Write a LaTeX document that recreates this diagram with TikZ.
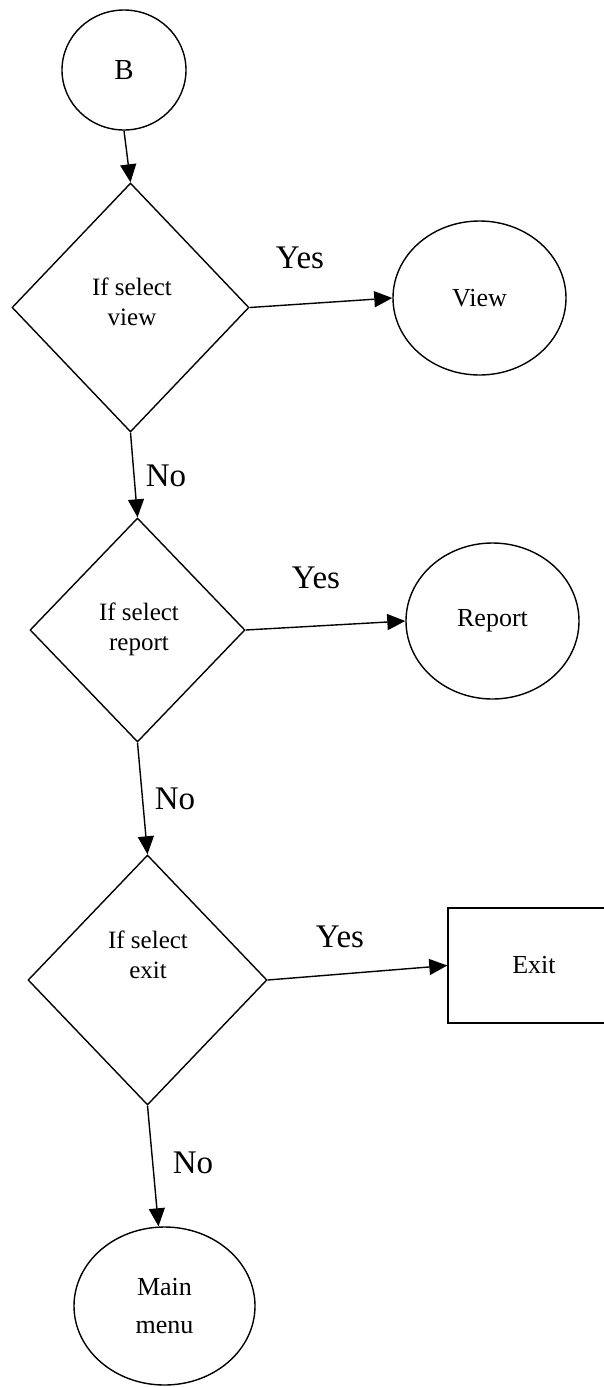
\documentclass[tikz,border=0pt]{standalone}
\usepackage{fontspec}
\setmainfont{Liberation Serif}
\usetikzlibrary{shapes.geometric,arrows.meta}

\tikzset{
  oval/.style={draw, ellipse, line width=1.4pt, inner sep=0pt, align=center, font=\fontsize{26}{38}\selectfont},
  decision/.style={draw, diamond, line width=1.4pt, inner sep=0pt},
  inside/.style={align=center, font=\fontsize{25}{30}\selectfont},
  answer/.style={font=\fontsize{33}{38}\selectfont},
  flow/.style={-{Triangle[length=18pt,width=16pt]}, line width=1.4pt}
}

\begin{document}
\begin{tikzpicture}[x=1pt, y=-1pt]
        \useasboundingbox (0,0) rectangle (604,1387);
        \clip (0,0) rectangle (604,1387);

        % Start connector
        \node[oval, minimum width=124pt, minimum height=120pt, font=\fontsize{29}{34}\selectfont] (b) at (124,70) {B};

        % Decisions
        \node[decision, minimum width=237pt, minimum height=249pt] (viewq) at (130.5,307.5) {};
        \node[decision, minimum width=215pt, minimum height=224pt] (reportq) at (137.5,630) {};
        \node[decision, minimum width=239pt, minimum height=250pt] (exitq) at (147.5,980) {};
        \node[inside] (viewtxt) at (132,302) {If select\\view};
        \node[inside] (reporttxt) at (139,629) {If select\\report};
        \node[inside] (exittxt) at (148,955) {If select\\exit};

        % Outcomes
        \node[oval, minimum width=173pt, minimum height=154pt] (view) at (479.5,298) {View};
        \node[oval, minimum width=173pt, minimum height=156pt] (report) at (492.5,621) {Report};
        \node[draw, line width=1.4pt, minimum width=172pt, minimum height=115pt,
              font=\fontsize{26}{30}\selectfont] (exit) at (534,965.5) {Exit};
        \node[oval, minimum width=181pt, minimum height=158pt] (menu) at (164.5,1306) {Main\\menu};

        % Arrows
        \draw[flow] (b.south) -- (viewq.north);
        \draw[flow] (viewq.east) -- (view.west);
        \draw[flow] (viewq.south) -- (reportq.north);
        \draw[flow] (reportq.east) -- (report.west);
        \draw[flow] (reportq.south) -- (exitq.north);
        \draw[flow] (exitq.east) -- (exit.west);
        \draw[flow] (exitq.south) -- ([xshift=-6pt]menu.north);

        % Yes / No labels
        \node[answer] (yes1) at (300,258) {Yes};
        \node[answer] (yes2) at (316,578) {Yes};
        \node[answer] (yes3) at (340,937) {Yes};
        \node[answer] (no1) at (166,476) {No};
        \node[answer] (no2) at (175,799) {No};
        \node[answer] (no3) at (193,1163) {No};
    \end{tikzpicture}
\end{document}
